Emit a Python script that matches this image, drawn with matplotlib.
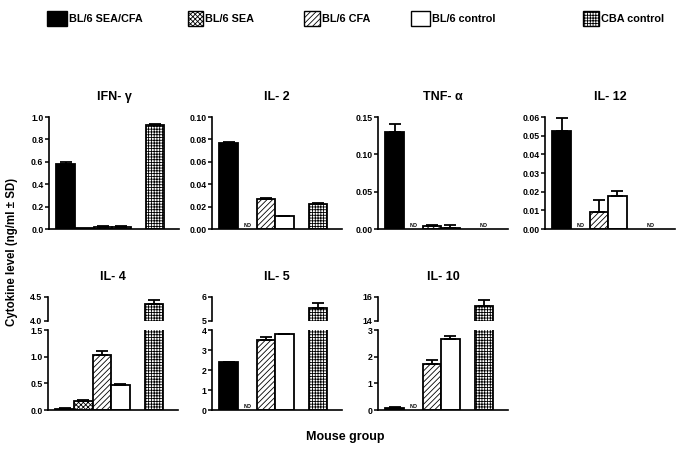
import matplotlib
matplotlib.use('Agg')
import matplotlib.pyplot as plt
from matplotlib.patches import Rectangle
import numpy as np

plt.rcParams['font.family'] = ['Liberation Sans', 'DejaVu Sans']
plt.rcParams['font.weight'] = 'bold'
plt.rcParams['hatch.linewidth'] = 0.6

nan = np.nan

# mouse groups
groups = ['BL/6 SEA/CFA', 'BL/6 SEA', 'BL/6 CFA', 'BL/6 control', 'CBA control']
xpos = [0, 1, 2, 3, 4.8]

# cytokine levels, ng/ml (nan = ND)
ifn_mean = [0.58, 0.01, 0.02, 0.02, 0.925]
ifn_sd = [0.015, 0.0, 0.003, 0.003, 0.012]
il2_mean = [0.0765, nan, 0.027, 0.0115, 0.0225]
il2_sd = [0.0008, 0.0, 0.0009, 0.0005, 0.0008]
tnf_mean = [0.13, nan, 0.0035, 0.0015, nan]
tnf_sd = [0.011, 0.0, 0.0015, 0.0045, 0.0]
il12_mean = [0.0525, nan, 0.0092, 0.0175, nan]
il12_sd = [0.0068, 0.0, 0.0062, 0.003, 0.0]
il4_mean = [0.025, 0.175, 1.03, 0.465, 4.36]
il4_sd = [0.004, 0.005, 0.075, 0.015, 0.08]
il5_mean = [2.38, nan, 3.49, 3.78, 5.53]
il5_sd = [0.02, 0.0, 0.15, 0.03, 0.2]
il10_mean = [0.08, nan, 1.73, 2.65, 15.25]
il10_sd = [0.04, 0.0, 0.13, 0.12, 0.5]

colors = ['black', 'white', 'white', 'white', 'white']
hatches = [None, 'xxxxxxx', '//////', None, '++++++']

W, H = 677, 451
fig = plt.figure(figsize=(W / 100, H / 100), dpi=100)


def px_axes(left, top, width, height):
    return fig.add_axes([left / W, 1 - (top + height) / H, width / W, height / H])


def draw_bars(ax, mean, sd, ylim, nd=True):
    for i in range(len(groups)):
        if np.isnan(mean[i]):
            if nd:
                ax.text(xpos[i], ylim * 0.012, 'ND', fontsize=4, ha='center', va='bottom')
            continue
        ax.bar(xpos[i], mean[i], width=1.0, color=colors[i], edgecolor='black',
               linewidth=1.3, hatch=hatches[i], zorder=2)
        if sd[i] > 0:
            ax.errorbar(xpos[i], mean[i], yerr=[[0], [sd[i]]], fmt='none', ecolor='black',
                        elinewidth=1.3, capsize=4.5, capthick=1.3, zorder=3)


def style(ax, bottom=True):
    ax.set_xlim(-0.9, 6.1)
    ax.spines['top'].set_visible(False)
    ax.spines['right'].set_visible(False)
    ax.spines['left'].set_linewidth(1.2)
    ax.spines['bottom'].set_linewidth(1.2)
    ax.spines['bottom'].set_visible(bottom)
    ax.set_xticks([])
    ax.tick_params(axis='y', direction='out', length=3, width=1.1, labelsize=6.3, pad=1)
    for lab in ax.get_yticklabels():
        lab.set_fontweight('bold')


# top row
top_panels = [
    ('IFN- γ', ifn_mean, ifn_sd, 1.0, [0, 0.2, 0.4, 0.6, 0.8, 1.0], '%.1f', 49),
    ('IL- 2', il2_mean, il2_sd, 0.10, [0, 0.02, 0.04, 0.06, 0.08, 0.10], '%.2f', 212),
    ('TNF- α', tnf_mean, tnf_sd, 0.15, [0, 0.05, 0.10, 0.15], '%.2f', 378),
    ('IL- 12', il12_mean, il12_sd, 0.06, [0, 0.01, 0.02, 0.03, 0.04, 0.05, 0.06], '%.2f', 545),
]
for title, mean, sd, ytop, ticks, fmt, left in top_panels:
    ax = px_axes(left, 117, 130, 112)
    draw_bars(ax, mean, sd, ytop)
    ax.set_ylim(0, ytop)
    ax.set_yticks(ticks)
    ax.set_yticklabels([fmt % t for t in ticks])
    style(ax)
    ax.set_title(title, fontsize=9, fontweight='bold', pad=12)

# bottom row, broken axes
bottom_panels = [
    ('IL- 4', il4_mean, il4_sd, (0, 1.5), [0, 0.5, 1.0, 1.5], (4.0, 4.5), [4.0, 4.5], '%.1f', 48),
    ('IL- 5', il5_mean, il5_sd, (0, 4), [0, 1, 2, 3, 4], (5, 6), [5, 6], '%d', 212),
    ('IL- 10', il10_mean, il10_sd, (0, 3), [0, 1, 2, 3], (14, 16), [14, 16], '%d', 378),
]
for title, mean, sd, lo, lo_ticks, hi, hi_ticks, fmt, left in bottom_panels:
    ax_lo = px_axes(left, 330, 130, 80)
    ax_hi = px_axes(left, 297, 130, 24)
    draw_bars(ax_lo, mean, sd, lo[1])
    draw_bars(ax_hi, mean, sd, hi[1], nd=False)
    ax_lo.set_ylim(*lo)
    ax_hi.set_ylim(*hi)
    ax_lo.set_yticks(lo_ticks)
    ax_lo.set_yticklabels([fmt % t for t in lo_ticks])
    ax_hi.set_yticks(hi_ticks)
    ax_hi.set_yticklabels([fmt % t for t in hi_ticks])
    style(ax_lo)
    style(ax_hi, bottom=False)
    ax_hi.patch.set_visible(False)
    ax_hi.set_title(title, fontsize=9, fontweight='bold', pad=12)

# legend row
leg_patch_x = [47, 188, 304, 411, 583]
leg_patch_w = [20, 15, 16, 19, 16]
for i, g in enumerate(groups):
    r = Rectangle((leg_patch_x[i] / W, 1 - 26 / H), leg_patch_w[i] / W, 15 / H,
                  transform=fig.transFigure, facecolor=colors[i], edgecolor='black',
                  linewidth=1.0, hatch=hatches[i])
    fig.add_artist(r)
    fig.text((leg_patch_x[i] + leg_patch_w[i] + 2) / W, 1 - 18.5 / H, g,
             fontsize=7.8, fontweight='bold', va='center', ha='left')

fig.text(12 / W, 1 - 252 / H, 'Cytokine level (ng/ml ± SD)', rotation=90,
         fontsize=8.3, fontweight='bold', ha='center', va='center')
fig.text(345 / W, 1 - 437 / H, 'Mouse group', fontsize=9, fontweight='bold',
         ha='center', va='center')

fig.savefig('out.png', dpi=100)
